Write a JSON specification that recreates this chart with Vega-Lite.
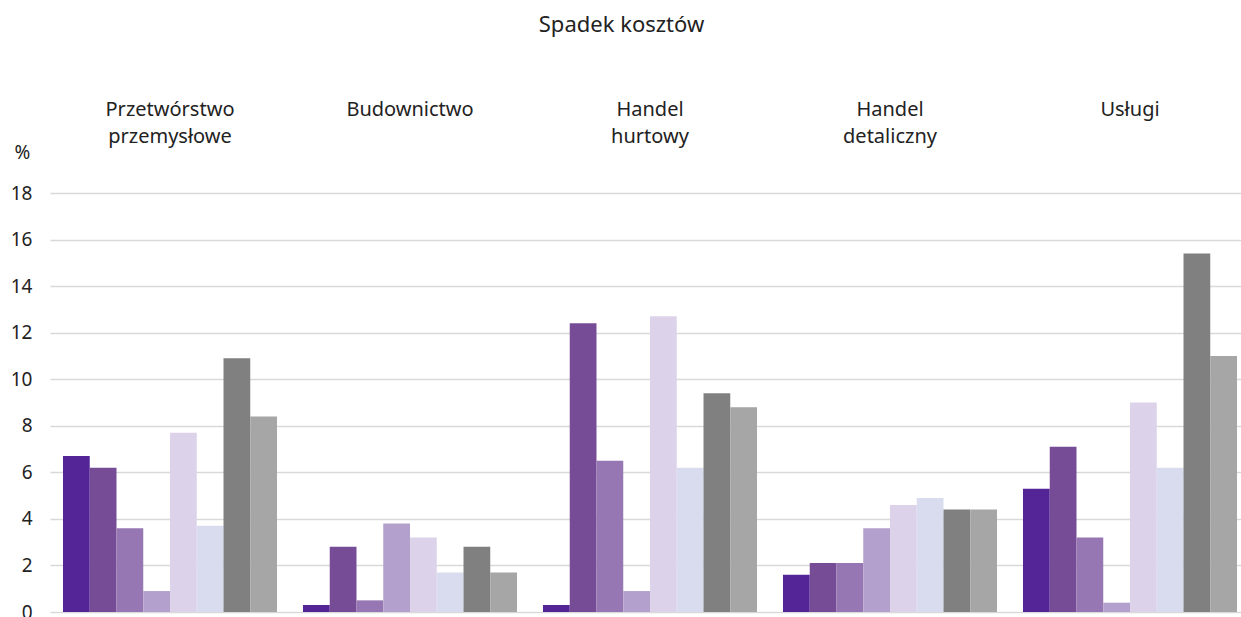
{
  "$schema": "https://vega.github.io/schema/vega-lite/v6.json",
  "width": 1191,
  "height": 419,
  "autosize": {"type": "none"},
  "padding": {"left": 50, "top": 193, "right": 0, "bottom": 5},
  "background": "white",
  "title": {"text": "Spadek kosztów", "fontSize": 22, "fontWeight": "normal", "color": "#222222", "font": "Noto Sans", "anchor": "middle", "frame": "group", "dx": -24, "offset": 62},
  "config": {"font": "Noto Sans", "view": {"stroke": null}},
  "data": {"values": [
    {"sektor": "Przetwórstwo\nprzemysłowe", "seria": "Seria 1", "wartosc": 6.7},
    {"sektor": "Przetwórstwo\nprzemysłowe", "seria": "Seria 2", "wartosc": 6.2},
    {"sektor": "Przetwórstwo\nprzemysłowe", "seria": "Seria 3", "wartosc": 3.6},
    {"sektor": "Przetwórstwo\nprzemysłowe", "seria": "Seria 4", "wartosc": 0.9},
    {"sektor": "Przetwórstwo\nprzemysłowe", "seria": "Seria 5", "wartosc": 7.7},
    {"sektor": "Przetwórstwo\nprzemysłowe", "seria": "Seria 6", "wartosc": 3.7},
    {"sektor": "Przetwórstwo\nprzemysłowe", "seria": "Seria 7", "wartosc": 10.9},
    {"sektor": "Przetwórstwo\nprzemysłowe", "seria": "Seria 8", "wartosc": 8.4},
    {"sektor": "Budownictwo", "seria": "Seria 1", "wartosc": 0.3},
    {"sektor": "Budownictwo", "seria": "Seria 2", "wartosc": 2.8},
    {"sektor": "Budownictwo", "seria": "Seria 3", "wartosc": 0.5},
    {"sektor": "Budownictwo", "seria": "Seria 4", "wartosc": 3.8},
    {"sektor": "Budownictwo", "seria": "Seria 5", "wartosc": 3.2},
    {"sektor": "Budownictwo", "seria": "Seria 6", "wartosc": 1.7},
    {"sektor": "Budownictwo", "seria": "Seria 7", "wartosc": 2.8},
    {"sektor": "Budownictwo", "seria": "Seria 8", "wartosc": 1.7},
    {"sektor": "Handel\nhurtowy", "seria": "Seria 1", "wartosc": 0.3},
    {"sektor": "Handel\nhurtowy", "seria": "Seria 2", "wartosc": 12.4},
    {"sektor": "Handel\nhurtowy", "seria": "Seria 3", "wartosc": 6.5},
    {"sektor": "Handel\nhurtowy", "seria": "Seria 4", "wartosc": 0.9},
    {"sektor": "Handel\nhurtowy", "seria": "Seria 5", "wartosc": 12.7},
    {"sektor": "Handel\nhurtowy", "seria": "Seria 6", "wartosc": 6.2},
    {"sektor": "Handel\nhurtowy", "seria": "Seria 7", "wartosc": 9.4},
    {"sektor": "Handel\nhurtowy", "seria": "Seria 8", "wartosc": 8.8},
    {"sektor": "Handel\ndetaliczny", "seria": "Seria 1", "wartosc": 1.6},
    {"sektor": "Handel\ndetaliczny", "seria": "Seria 2", "wartosc": 2.1},
    {"sektor": "Handel\ndetaliczny", "seria": "Seria 3", "wartosc": 2.1},
    {"sektor": "Handel\ndetaliczny", "seria": "Seria 4", "wartosc": 3.6},
    {"sektor": "Handel\ndetaliczny", "seria": "Seria 5", "wartosc": 4.6},
    {"sektor": "Handel\ndetaliczny", "seria": "Seria 6", "wartosc": 4.9},
    {"sektor": "Handel\ndetaliczny", "seria": "Seria 7", "wartosc": 4.4},
    {"sektor": "Handel\ndetaliczny", "seria": "Seria 8", "wartosc": 4.4},
    {"sektor": "Usługi", "seria": "Seria 1", "wartosc": 5.3},
    {"sektor": "Usługi", "seria": "Seria 2", "wartosc": 7.1},
    {"sektor": "Usługi", "seria": "Seria 3", "wartosc": 3.2},
    {"sektor": "Usługi", "seria": "Seria 4", "wartosc": 0.4},
    {"sektor": "Usługi", "seria": "Seria 5", "wartosc": 9.0},
    {"sektor": "Usługi", "seria": "Seria 6", "wartosc": 6.2},
    {"sektor": "Usługi", "seria": "Seria 7", "wartosc": 15.4},
    {"sektor": "Usługi", "seria": "Seria 8", "wartosc": 11.0}
  ]},
  "mark": {"type": "bar"},
  "encoding": {
    "x": {
      "field": "sektor", "type": "nominal", "sort": null,
      "scale": {"paddingInner": 0.1083, "paddingOuter": 0.0354, "align": 0.765},
      "axis": {
        "orient": "top", "title": null, "domain": false, "ticks": false, "tickSize": 0,
        "labelAngle": 0, "labelAlign": "center", "labelBaseline": "top",
        "labelPadding": 94, "labelFontSize": 20, "labelColor": "#222222",
        "labelLineHeight": 27, "labelExpr": "split(datum.value, '\\n')"
      }
    },
    "xOffset": {"field": "seria", "type": "nominal", "sort": null, "scale": {"paddingInner": 0, "paddingOuter": 0}},
    "y": {
      "field": "wartosc", "type": "quantitative",
      "scale": {"domain": [0, 18], "nice": false},
      "axis": {
        "values": [0, 2, 4, 6, 8, 10, 12, 14, 16, 18],
        "domain": false, "ticks": false, "tickSize": 0,
        "grid": true, "gridColor": "#d9d9d9", "gridWidth": 1.3,
        "labelFontSize": 19, "labelColor": "#222222", "labelPadding": 18,
        "title": "%", "titleAngle": 0, "titleX": -28, "titleY": -41,
        "titleAlign": "center", "titleBaseline": "middle",
        "titleFontSize": 19, "titleFontWeight": "normal", "titleColor": "#222222"
      }
    },
    "color": {
      "field": "seria", "type": "nominal", "sort": null,
      "scale": {
        "domain": ["Seria 1", "Seria 2", "Seria 3", "Seria 4", "Seria 5", "Seria 6", "Seria 7", "Seria 8"],
        "range": ["#532596", "#764C97", "#9677B3", "#B4A0CC", "#DCD3EA", "#D9DBEF", "#808080", "#A6A6A6"]
      },
      "legend": null
    }
  }
}
